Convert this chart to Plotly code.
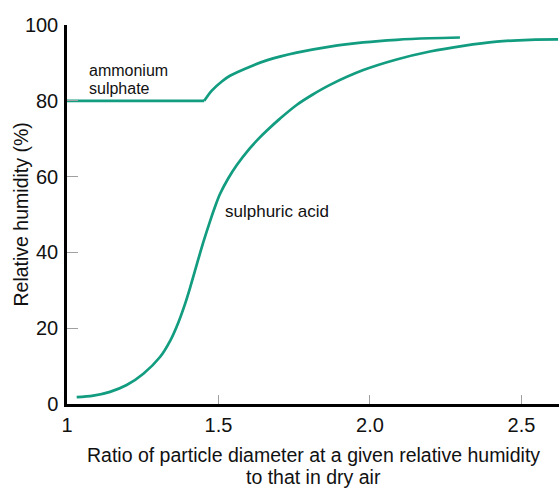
import plotly.graph_objects as go

# Ammonium sulphate: flat part, then the growth curve after deliquescence
amm_flat_x = [1.0, 1.453]
amm_flat_y = [80.0, 80.0]
amm_curve_x = [1.453, 1.478, 1.511, 1.538, 1.610, 1.664, 1.758, 1.868, 1.978, 2.088, 2.198, 2.297]
amm_curve_y = [80.0, 82.7, 85.1, 86.6, 89.2, 90.8, 92.7, 94.3, 95.4, 96.1, 96.5, 96.7]

# Sulphuric acid curve
sul_x = [1.032, 1.087, 1.142, 1.197, 1.252, 1.307, 1.340, 1.367, 1.390, 1.406, 1.428,
         1.450, 1.472, 1.488, 1.505, 1.532, 1.560, 1.604, 1.631, 1.659, 1.703, 1.758,
         1.810, 1.868, 1.978, 2.088, 2.198, 2.308, 2.418, 2.528, 2.621]
sul_y = [1.8, 2.2, 3.2, 5.0, 8.0, 12.4, 16.6, 21.4, 26.5, 30.6, 36.7,
         42.7, 48.2, 51.9, 55.4, 59.5, 63.0, 67.5, 69.9, 72.1, 75.3, 78.9,
         81.6, 84.2, 88.1, 90.9, 93.0, 94.5, 95.6, 96.1, 96.2]

x_ticks = [1.0, 1.5, 2.0, 2.5]
x_ticktext = ["1", "1.5", "2.0", "2.5"]
y_ticks = [0, 20, 40, 60, 80, 100]

GREEN = "#129c80"
FONT = "Liberation Sans, Arial, sans-serif"
TXT = "#111111"

fig = go.Figure()
fig.add_trace(go.Scatter(x=amm_flat_x, y=amm_flat_y, mode="lines",
                         line=dict(color=GREEN, width=2.7),
                         hoverinfo="skip", showlegend=False))
fig.add_trace(go.Scatter(x=amm_curve_x, y=amm_curve_y, mode="lines",
                         line=dict(color=GREEN, width=2.7, shape="spline", smoothing=1.0),
                         hoverinfo="skip", showlegend=False))
fig.add_trace(go.Scatter(x=sul_x, y=sul_y, mode="lines",
                         line=dict(color=GREEN, width=2.7, shape="spline", smoothing=1.0),
                         hoverinfo="skip", showlegend=False))

ann_font = dict(family=FONT, size=16, color=TXT)
fig.add_annotation(x=1.066, y=88.0, xref="x", yref="y", text="ammonium",
                   showarrow=False, xanchor="left", yanchor="middle", font=ann_font)
fig.add_annotation(x=1.066, y=83.2, xref="x", yref="y", text="sulphate",
                   showarrow=False, xanchor="left", yanchor="middle", font=ann_font)
fig.add_annotation(x=1.515, y=50.8, xref="x", yref="y", text="sulphuric acid",
                   showarrow=False, xanchor="left", yanchor="middle",
                   font=dict(family=FONT, size=17, color=TXT))

# Axis titles
title_font = dict(family=FONT, size=19.5, color=TXT)
fig.add_annotation(x=0.5, y=-0.1346, xref="paper", yref="paper",
                   text="Ratio of particle diameter at a given relative humidity",
                   showarrow=False, xanchor="center", yanchor="middle", font=title_font)
fig.add_annotation(x=0.5, y=-0.1926, xref="paper", yref="paper",
                   text="to that in dry air",
                   showarrow=False, xanchor="center", yanchor="middle", font=title_font)
fig.add_annotation(x=-0.0935, y=0.5, xref="paper", yref="paper",
                   text="Relative humidity (%)", textangle=-90,
                   showarrow=False, xanchor="center", yanchor="middle", font=title_font)

fig.update_layout(
    width=559, height=488,
    margin=dict(l=67, r=0, t=25, b=84),
    paper_bgcolor="white", plot_bgcolor="white",
    font=dict(family=FONT, size=20, color=TXT),
    xaxis=dict(range=[1.0, 2.624], tickvals=x_ticks, ticktext=x_ticktext,
               ticks="inside", ticklen=9, tickwidth=1, tickcolor="#a0a0a0",
               showline=True, linecolor="black", linewidth=2.5,
               showgrid=False, zeroline=False, ticklabelstandoff=1,
               tickfont=dict(size=20)),
    yaxis=dict(range=[0, 100], tickvals=y_ticks,
               ticks="inside", ticklen=11, tickwidth=1, tickcolor="#a0a0a0",
               showline=True, linecolor="black", linewidth=2.5,
               showgrid=False, zeroline=False, ticklabelstandoff=2,
               tickfont=dict(size=20)),
)

fig.write_html("out.html")
